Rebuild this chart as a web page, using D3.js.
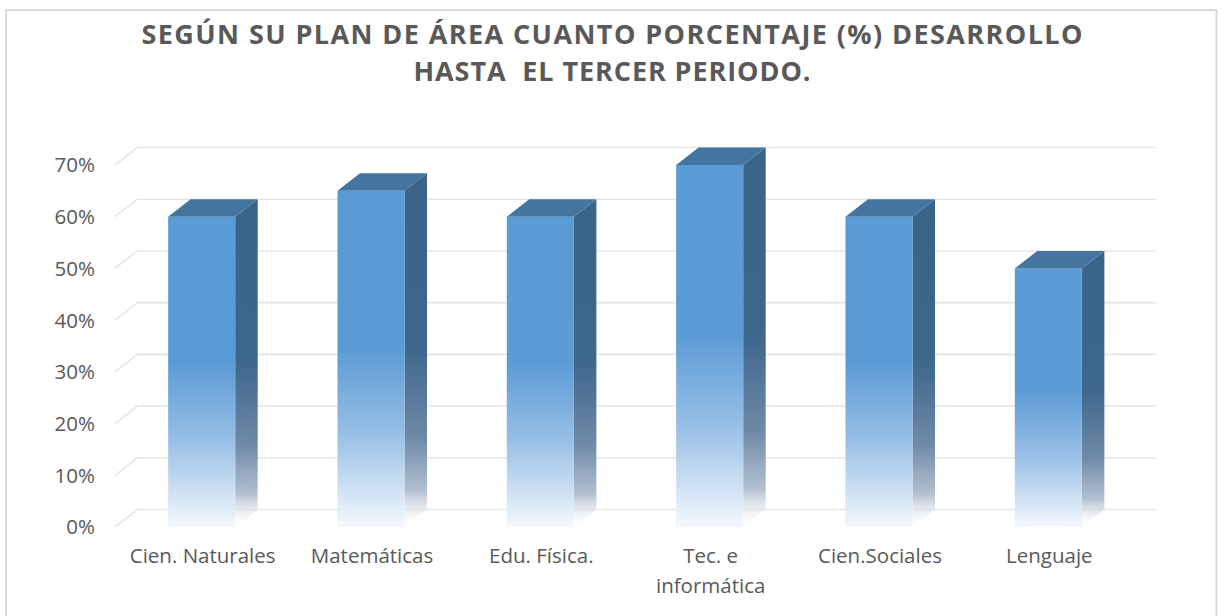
<!DOCTYPE html>
<html>
<head>
<meta charset="utf-8">
<script src="https://cdn.jsdelivr.net/npm/d3@7"></script>
<style>
  body { margin: 0; background: #fff; }
  text { font-family: "Open Sans", "DejaVu Sans", sans-serif; fill: #595959; }
</style>
</head>
<body>
<div id="chart"></div>
<script>
const titleLines = ["SEGÚN SU PLAN DE ÁREA CUANTO PORCENTAJE (%) DESARROLLO", "HASTA  EL TERCER PERIODO."];
const categories = ["Cien. Naturales", "Matemáticas", "Edu. Física.", "Tec. e informática", "Cien.Sociales", "Lenguaje"];
const values = [0.60, 0.65, 0.60, 0.70, 0.60, 0.50];
const yTicks = [0, 0.1, 0.2, 0.3, 0.4, 0.5, 0.6, 0.7];

const width = 1221, height = 616;
// 3d offset of the back wall / bar depth
const dx = 22.5, dy = -17.5;

const svg = d3.select("#chart").append("svg")
  .attr("width", width)
  .attr("height", height);

svg.append("rect")
  .attr("x", 6).attr("y", 10)
  .attr("width", 1210.5).attr("height", 640)
  .attr("fill", "#fff")
  .attr("stroke", "#D9D9D9")
  .attr("stroke-width", 2);

// title
const titleW = [941, 397];
svg.append("g").selectAll("text")
  .data(titleLines)
  .enter().append("text")
  .attr("x", 612)
  .attr("y", (d, i) => 44 + i * 37)
  .attr("text-anchor", "middle")
  .attr("textLength", (d, i) => titleW[i])
  .attr("lengthAdjust", "spacing")
  .style("white-space", "pre")
  .style("font-size", "27px")
  .style("font-weight", "bold")
  .text(d => d);

const x = d3.scaleBand()
  .domain(categories)
  .range([117, 1133])
  .paddingInner(0.604)
  .paddingOuter(0.302);

const y = d3.scaleLinear()
  .domain([0, 0.7])
  .range([527, 165]);

// gradients
const defs = svg.append("defs");
const front = defs.append("linearGradient")
  .attr("id", "gFront").attr("x1", 0).attr("y1", 0).attr("x2", 0).attr("y2", 1);
front.append("stop").attr("offset", 0).attr("stop-color", "#5B9BD5");
front.append("stop").attr("offset", 0.47).attr("stop-color", "#5B9BD5");
front.append("stop").attr("offset", 0.72).attr("stop-color", "#97BFE6");
front.append("stop").attr("offset", 1).attr("stop-color", "#F3F8FD");

const side = defs.append("linearGradient")
  .attr("id", "gSide").attr("x1", 0).attr("y1", 0).attr("x2", 0).attr("y2", 1);
side.append("stop").attr("offset", 0).attr("stop-color", "#3A6388");
side.append("stop").attr("offset", 0.5).attr("stop-color", "#3E678C");
side.append("stop").attr("offset", 0.75).attr("stop-color", "#6F8AA8");
side.append("stop").attr("offset", 0.9).attr("stop-color", "#B3C1D1");
side.append("stop").attr("offset", 1).attr("stop-color", "#FFFFFF").attr("stop-opacity", 0.2);

// gridlines (front-left diagonal + back wall)
const x0 = 115, xEnd = 1133;
svg.append("g").selectAll("path")
  .data(yTicks)
  .enter().append("path")
  .attr("d", t => `M${x0},${y(t)}L${x0 + dx},${y(t) + dy}L${xEnd + dx},${y(t) + dy}`)
  .attr("fill", "none")
  .attr("stroke", "#E6E6E6")
  .attr("stroke-width", 1.6);

// y labels
svg.append("g").selectAll("text")
  .data(yTicks)
  .enter().append("text")
  .attr("x", 95)
  .attr("y", t => y(t) + 2)
  .attr("text-anchor", "end")
  .attr("dominant-baseline", "middle")
  .style("font-size", "20.5px")
  .text(d3.format(".0%"));

// bars
const bw = x.bandwidth();
const bars = svg.append("g").selectAll("g")
  .data(categories.map((c, i) => ({ c, v: values[i] })))
  .enter().append("g");

bars.append("path")
  .attr("d", d => {
    const xr = x(d.c) + bw, yt = y(d.v), yb = y(0);
    return `M${xr},${yt}L${xr + dx},${yt + dy}L${xr + dx},${yb + dy}L${xr},${yb}Z`;
  })
  .attr("fill", "url(#gSide)");

bars.append("rect")
  .attr("x", d => x(d.c))
  .attr("y", d => y(d.v))
  .attr("width", bw)
  .attr("height", d => y(0) - y(d.v))
  .attr("fill", "url(#gFront)");

bars.append("path")
  .attr("d", d => {
    const xl = x(d.c), yt = y(d.v);
    return `M${xl},${yt}L${xl + dx},${yt + dy}L${xl + bw + dx},${yt + dy}L${xl + bw},${yt}Z`;
  })
  .attr("fill", "#4474A0");

// category labels, wrapped to the band step
const labels = svg.append("g").selectAll("text")
  .data(categories)
  .enter().append("text")
  .attr("x", d => x(d) + bw / 2 + 1)
  .attr("y", 558)
  .attr("text-anchor", "middle")
  .attr("dominant-baseline", "middle")
  .style("font-size", "20.5px")
  .text(d => d);

labels.each(function(d) {
  const el = d3.select(this);
  if (this.getComputedTextLength() <= x.step() * 0.92) return;
  const words = d.split(" ");
  const lines = [];
  let cur = [];
  el.text(null);
  const probe = el.append("tspan");
  words.forEach(w => {
    probe.text(cur.concat(w).join(" "));
    if (cur.length && probe.node().getComputedTextLength() > x.step() * 0.92) {
      lines.push(cur.join(" "));
      cur = [w];
    } else {
      cur.push(w);
    }
  });
  lines.push(cur.join(" "));
  probe.remove();
  const cx = el.attr("x");
  lines.forEach((l, i) => {
    el.append("tspan").attr("x", cx).attr("dy", i ? 30 : 0).text(l);
  });
});
</script>
</body>
</html>
